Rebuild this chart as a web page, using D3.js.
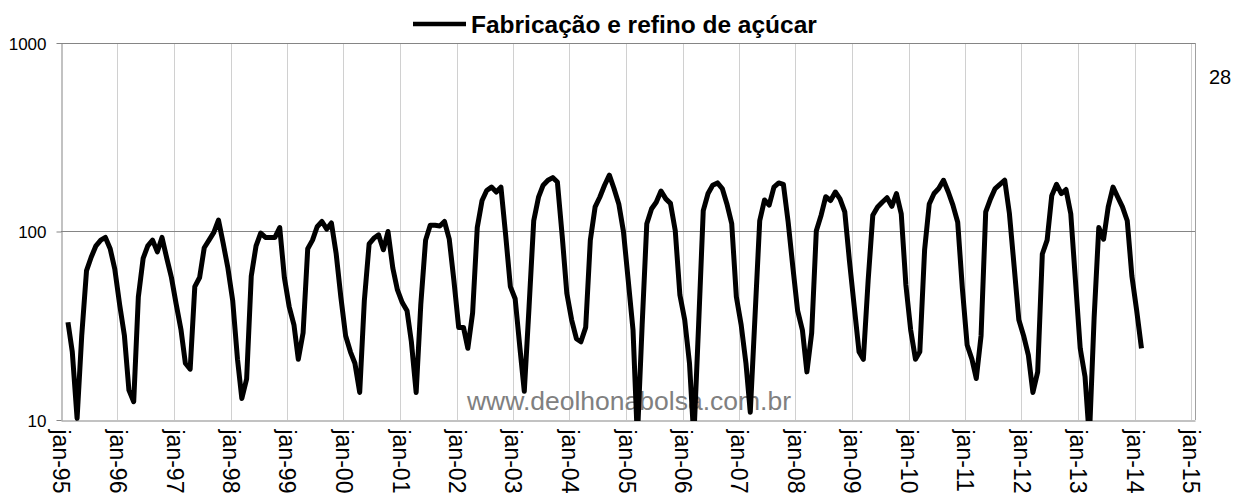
<!DOCTYPE html>
<html>
<head>
<meta charset="utf-8">
<script src="https://cdn.jsdelivr.net/npm/d3@7"></script>
<style>
  body { margin: 0; background: #fff; }
  svg { display: block; font-family: "Liberation Sans", Arial, sans-serif; }
</style>
</head>
<body>
<svg id="chart" width="1234" height="497"></svg>
<script>
// monthly series, first point feb-95, last point feb-14
const seriesName = 'Fabricação e refino de açúcar';
const firstMonth = new Date(1995, 1, 15);
const values = [
  33, 23, 10.2, 28, 62, 73, 84, 90, 93, 81, 63,
  41, 28, 14.4, 12.5, 45, 72, 84, 90, 78, 93, 72, 57,
  41, 30, 20, 18.6, 51, 57, 82, 90, 99, 115, 86, 64,
  43, 21, 13, 16.5, 58, 84, 98, 93, 93, 93, 105, 57,
  40, 32, 21, 29, 81, 90, 106, 113, 103, 111, 76, 45,
  28, 23, 20, 14, 43, 86, 92, 96, 80, 100, 64, 49,
  42, 38, 26, 14, 41, 90, 108, 108, 107, 113, 91, 55,
  31, 31, 24, 37, 105, 146, 165, 172, 162, 172, 95, 51,
  44, 24, 14.2, 40, 114, 152, 176, 187, 193, 183, 95, 47,
  34, 27, 26, 31, 90, 135, 152, 176, 199, 169, 140, 100,
  55, 30, 8, 32, 110, 132, 143, 164, 149, 141, 101, 46,
  34, 20, 8, 32, 129, 159, 176, 181, 169, 140, 110, 45,
  32, 20, 11, 36, 114, 147, 138, 172, 181, 178, 112, 65,
  38, 30, 18, 29, 101, 122, 153, 146, 162, 149, 127, 70,
  40, 23, 21, 55, 122, 135, 143, 151, 136, 159, 124, 52,
  30, 21, 23, 80, 140, 159, 169, 187, 162, 138, 112, 50,
  25, 21, 16.6, 28, 127, 149, 169, 178, 187, 125, 65, 34,
  28, 22, 14, 18, 76, 90, 155, 178, 159, 167, 124, 55,
  24, 17, 8, 35, 105, 91, 135, 172, 152, 135, 114, 58,
  38, 24
];
const yTicks = [10, 100, 1000];
const xTickLabels = ['jan-95', 'jan-96', 'jan-97', 'jan-98', 'jan-99', 'jan-00', 'jan-01',
  'jan-02', 'jan-03', 'jan-04', 'jan-05', 'jan-06', 'jan-07', 'jan-08', 'jan-09', 'jan-10',
  'jan-11', 'jan-12', 'jan-13', 'jan-14', 'jan-15'];
const sideNote = '28';
const watermark = 'www.deolhonabolsa.com.br';

const data = values.map((v, i) => ({ date: d3.timeMonth.offset(firstMonth, i), value: v }));
const yearTicks = xTickLabels.map((d, i) => new Date(1995 + i, 0, 1));

const svg = d3.select('#chart');
const plotLeft = 61, plotRight = 1195, plotTop = 43, plotBottom = 420;

const x = d3.scaleTime()
  .domain([new Date(1995, 0, 1), new Date(2015, 0, 27)])
  .range([plotLeft, plotRight]);
const y = d3.scaleLog()
  .domain([10, 1000])
  .range([plotBottom, plotTop]);

// vertical year gridlines
svg.append('g')
  .selectAll('line')
  .data(yearTicks.slice(1))
  .enter().append('line')
  .attr('x1', d => Math.round(x(d)) + 0.5)
  .attr('x2', d => Math.round(x(d)) + 0.5)
  .attr('y1', plotTop)
  .attr('y2', plotBottom)
  .attr('stroke', '#d0d0d0')
  .attr('stroke-width', 1);

// horizontal gridlines (100 and the top 1000)
svg.append('g')
  .selectAll('line')
  .data(yTicks.slice(1))
  .enter().append('line')
  .attr('x1', plotLeft)
  .attr('x2', plotRight)
  .attr('y1', d => Math.round(y(d)) + 0.5)
  .attr('y2', d => Math.round(y(d)) + 0.5)
  .attr('stroke', '#858585')
  .attr('stroke-width', 1);

// right border of the plot area
svg.append('line')
  .attr('x1', plotRight + 0.5).attr('x2', plotRight + 0.5)
  .attr('y1', plotTop).attr('y2', plotBottom)
  .attr('stroke', '#a0a0a0');

// y axis
const yAxis = svg.append('g')
  .attr('transform', `translate(${plotLeft + 0.5},0)`)
  .call(d3.axisLeft(y).tickValues(yTicks).tickFormat(d3.format('d')).tickSize(5).tickSizeOuter(0));
yAxis.select('.domain').attr('stroke', '#858585');
yAxis.selectAll('.tick line').attr('stroke', '#858585');
yAxis.selectAll('.tick text')
  .attr('font-size', 17)
  .attr('font-family', '"Liberation Sans", Arial, sans-serif')
  .attr('fill', '#000')
  .attr('x', -15)
  .attr('dy', '0.36em');

// x axis
const xAxis = svg.append('g')
  .attr('transform', `translate(0,${plotBottom + 0.5})`)
  .call(d3.axisBottom(x).tickValues(yearTicks).tickFormat((d, i) => xTickLabels[i]).tickSize(0).tickSizeOuter(0));
xAxis.select('.domain').attr('stroke', '#858585');
xAxis.selectAll('.tick text')
  .attr('font-size', 23)
  .attr('font-family', '"Liberation Sans", Arial, sans-serif')
  .attr('fill', '#000')
  .attr('transform', 'rotate(90)')
  .attr('text-anchor', 'start')
  .attr('x', 9)
  .attr('y', 0)
  .attr('dy', '0.35em');

// watermark
svg.append('text')
  .attr('x', 629)
  .attr('y', 410)
  .attr('text-anchor', 'middle')
  .attr('font-size', 26.5)
  .attr('fill', '#808080')
  .text(watermark);

// series line, clipped to plot area
svg.append('clipPath').attr('id', 'plotclip')
  .append('rect')
  .attr('x', plotLeft).attr('y', plotTop - 5)
  .attr('width', plotRight - plotLeft).attr('height', plotBottom - plotTop + 6);

const line = d3.line()
  .x(d => x(d.date))
  .y(d => y(d.value));

svg.append('path')
  .datum(data)
  .attr('clip-path', 'url(#plotclip)')
  .attr('fill', 'none')
  .attr('stroke', '#000')
  .attr('stroke-width', 5)
  .attr('stroke-linejoin', 'round')
  .attr('d', line);

// legend / title
svg.append('line')
  .attr('x1', 413).attr('x2', 466)
  .attr('y1', 24).attr('y2', 24)
  .attr('stroke', '#000')
  .attr('stroke-width', 4.5);
svg.append('text')
  .attr('x', 471)
  .attr('y', 33)
  .attr('font-size', 24.5)
  .attr('font-weight', 'bold')
  .attr('fill', '#000')
  .text(seriesName);

svg.append('text')
  .attr('x', 1209)
  .attr('y', 84)
  .attr('font-size', 20)
  .attr('fill', '#000')
  .text(sideNote);
</script>
</body>
</html>
